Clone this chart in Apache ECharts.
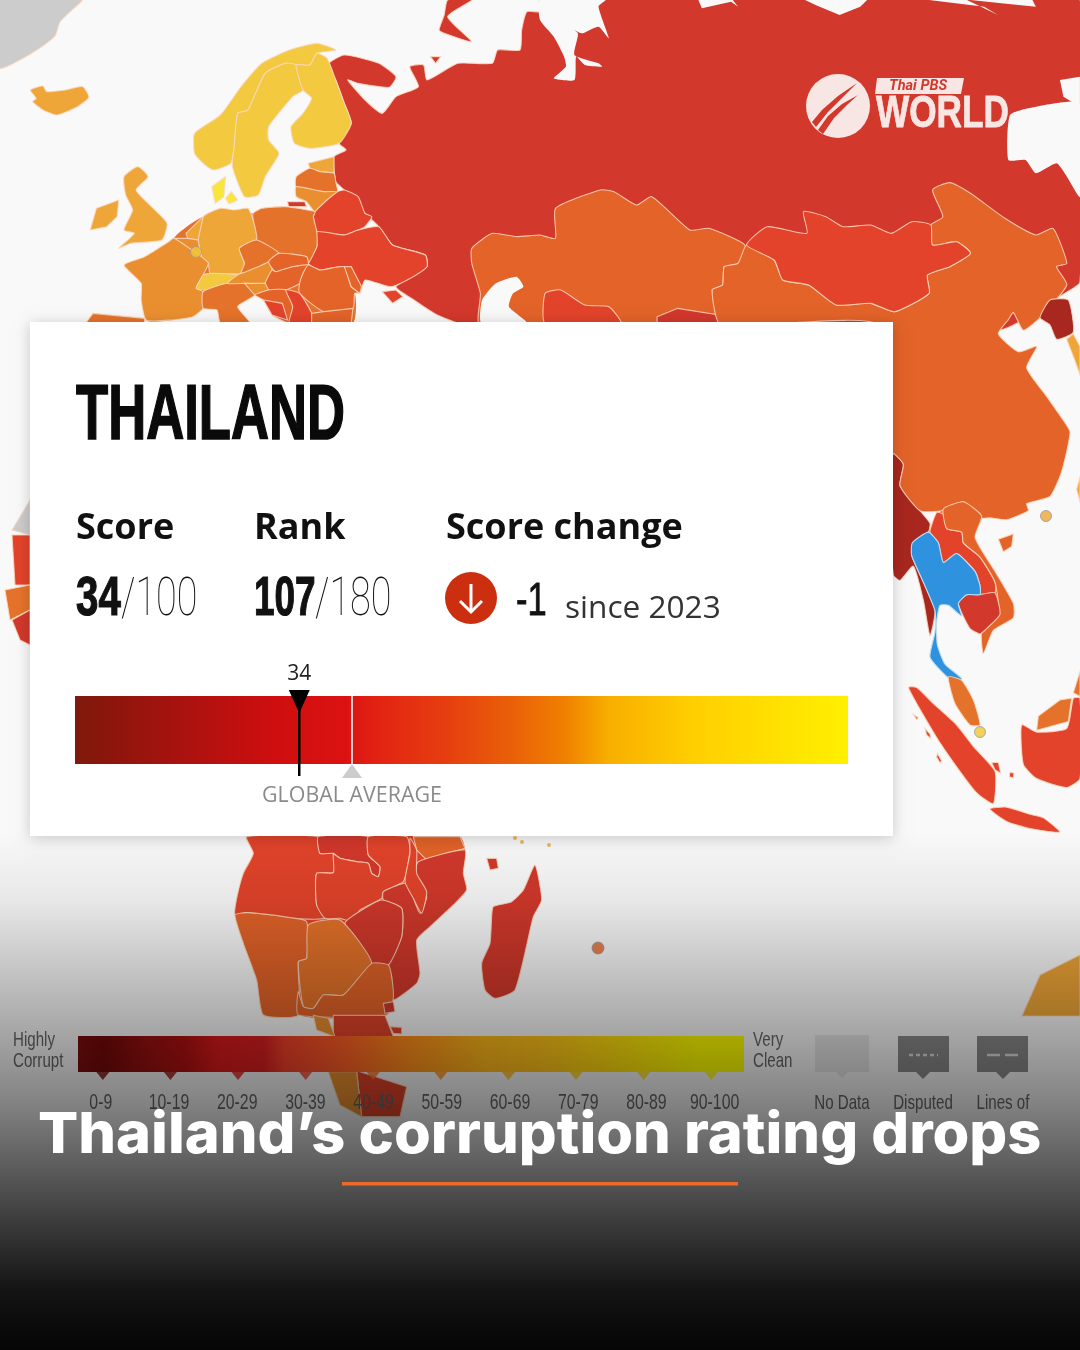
<!DOCTYPE html>
<html><head><meta charset="utf-8">
<style>html,body{margin:0;padding:0;background:#F9F9FA}#c{width:1080px;height:1350px}</style>
<script src="https://cdn.jsdelivr.net/npm/echarts@6/dist/echarts.min.js"></script>
</head><body><div id="c"></div>
<script>
// ---- values ----
const COUNTRY = 'THAILAND';
const SCORE = 34, SCORE_MAX = 100, RANK = 107, RANK_MAX = 180, CHANGE = -1, SINCE = 2023;
const GLOBAL_AVERAGE = 42;           // as placed on the reference bar
const SCORE_AXIS_MAX = 117.2;        // reference bar's extent on the same scale
const LEGEND_CATEGORIES = ['0-9','10-19','20-29','30-39','40-49','50-59','60-69','70-79','80-89','90-100'];
const LEGEND_POINTER_COLORS = ['#760808','#991010','#DB1A1A','#F24029','#FF7020','#FF8F1A','#FFB81A','#FFD010','#FFDC0D','#FFF800'];
const MAP_BANDS = [[20,'#A8271F'],[30,'#D2382B'],[40,'#E2432A'],[50,'#E36328'],[60,'#E5722A'],[70,'#EA8F2F'],[80,'#EFA638'],[90,'#F3C940'],[101,'#F8E63C']];
const BG = '#F9F9FA';
const SHEETS = {E:[0,0,2.904,3],A:[540,0,2.904,3],S:[880,300,3,2.8],F:[200,830,3,3],P:[0,0,1,1]};
function pts(s,...n){const t=SHEETS[s],o=[];for(let i=0;i<n.length;i+=2)o.push([t[0]+n[i]/t[2],t[1]+n[i+1]/t[3]]);return o;}
const E=(...n)=>pts('E',...n),A=(...n)=>pts('A',...n),S=(...n)=>pts('S',...n),F=(...n)=>pts('F',...n),X=(...n)=>pts('P',...n);

// name, score (or fixed fill), outline
const LAND = [
['Greenland','#CCCCCC',X(0,0,82,0,72,10,60,22,55,36,40,48,20,60,0,68)],
['Russia',22,[...E(950,195,1000,165,1100,190,1150,230,1130,262,1040,250,1010,240,1060,300,1110,340,1150,290,1215,260,1190,200,1230,195,1240,240,1330,190,1430,190,1445,150,1510,150,1515,90,1530,35,1568,35,1568,0),...X(1080,0,1080,282,1067,292,1000,330,482,330),...E(1270,945,1195,895,1150,860,1240,800,1235,765,1140,735,1100,680,1060,640,1000,570,975,545,970,470,1005,450,985,430,1020,370,1000,310,975,240)]],
['Novaya Zemlya',22,E(1300,0,1370,0,1300,50,1370,125,1290,100,1275,90,1290,45)],
['Kolguev',22,E(1250,170,1280,170,1265,190)],
['Kara Sea',BG,A(0,0,190,0,170,20,200,115,170,80,120,100,70,70,110,100,100,165,170,190,180,200,130,195,105,170,100,240,40,235,75,200,70,170,40,110,0,60)],
['Laptev Sea',BG,A(460,0,560,0,575,20,555,5,470,25)],
['East Siberian Sea',BG,A(770,0,950,0,930,20,870,45,800,15)],
['Chukchi Sea',BG,A(1130,0,1240,0,1330,45,1290,20)],
['Bering Sea',BG,A(1250,0,1430,0,1440,20,1340,10)],
['Kamchatka Sea',BG,A(1510,240,1568,230,1568,320,1520,290)],
['Okhotsk Sea',BG,[...A(1365,345,1440,320,1568,310,1568,590,1530,530,1500,490,1440,520,1410,480,1360,480)]],
['Iceland',77,E(88,270,125,258,135,275,190,270,240,260,258,292,225,320,165,345,125,330,95,305,105,295)],
['Norway',81,E(565,400,640,345,700,260,760,190,840,150,920,130,975,150,920,160,900,195,860,195,830,190,770,220,720,330,690,340,680,440,670,490,620,510,590,490,565,460)],
['Sweden',80,E(830,190,860,195,880,270,850,290,780,380,780,420,810,460,770,530,750,585,710,590,675,500,680,440,690,340,720,330,770,220)],
['Finland',88,E(860,195,900,195,920,160,950,175,975,240,1000,310,1020,370,985,430,900,445,855,430,845,380,880,340,905,295,880,270)],
['Denmark',90,E(615,560,655,530,650,590,625,610)],
['Denmark isles',90,E(655,595,672,575,690,600,665,612)],
['Central Europe base',53,E(505,715,590,650,735,640,915,635,920,740,1030,880,1025,968,840,968,765,900,740,885,590,875,590,925,500,960,425,960)],
['Estonia',76,E(895,490,970,470,970,520,930,515,900,505)],
['Latvia',59,E(860,530,900,505,930,515,970,520,975,545,980,575,940,575,860,560)],
['Lithuania',63,E(860,560,940,575,980,575,950,600,915,635,890,605,860,590)],
['Kaliningrad',22,E(835,605,885,605,890,620,838,620)],
['Belarus',33,E(915,635,950,600,980,575,1000,570,1040,590,1060,640,1080,650,1060,680,1040,690,1000,705,920,695,910,650)],
['Ukraine',35,E(920,695,1000,705,1040,690,1100,680,1140,735,1235,765,1240,800,1200,830,1135,860,1060,840,1045,880,1020,860,1000,800,930,810,895,790,920,740)],
['Crimea',35,E(1110,875,1150,870,1170,890,1140,910)],
['Poland',53,E(735,640,760,625,830,620,915,635,910,650,920,695,920,740,895,790,890,770,810,760,745,720,735,660)],
['Germany',75,E(590,650,640,625,680,630,720,625,735,660,745,720,695,745,710,790,700,820,610,820,605,790,585,770,575,720)],
['Netherlands',78,E(540,700,590,650,575,720,545,715)],
['Belgium',69,E(505,715,545,715,575,720,585,770,550,745)],
['France',67,E(505,715,550,745,585,770,605,790,590,825,570,865,590,875,590,925,560,950,500,960,425,960,410,900,410,850,360,795,420,770,490,725)],
['Switzerland',81,E(590,825,610,820,690,825,660,850,600,870,570,865)],
['Italy',54,E(590,875,660,850,710,850,740,885,690,920,725,968,640,968,630,930,590,925)],
['Austria',67,E(690,825,700,820,780,785,790,810,770,850,710,850,660,850)],
['Czechia',56,E(695,745,745,720,810,760,780,785,700,820,710,790)],
['Slovakia',49,E(810,760,890,770,895,795,850,800,800,815,780,785)],
['Hungary',41,E(770,850,790,810,800,815,850,800,895,795,880,820,870,850,830,870,780,870)],
['Romania',46,E(880,820,895,795,930,810,1000,800,1020,860,1045,880,1030,880,1025,925,940,935,870,880,870,850)],
['Moldova',43,E(1000,800,1020,800,1050,860,1045,880,1020,860)],
['Slovenia',60,E(710,850,770,850,780,870,740,885)],
['Croatia',47,E(740,885,780,870,830,870,850,920,840,968,790,945,765,900)],
['Serbia',35,E(830,870,870,880,905,940,905,968,840,968,850,920)],
['Bosnia',33,E(765,900,820,910,835,960,790,945)],
['Bulgaria',43,E(905,940,940,935,1025,925,1020,968,905,968)],
['Spain',56,E(250,968,270,940,420,955,420,968)],
['Ireland',77,E(262,690,280,625,345,600,340,650,310,680)],
['Great Britain',71,E(360,530,400,500,430,530,395,570,440,620,485,670,470,720,380,730,345,745,390,700,360,690,385,630,365,585)],
['Kazakhstan',40,[...E(1370,745,1430,700,1500,710),...A(0,705,45,715,45,625,175,570,215,575,280,615,325,590,435,690,490,685,595,735,575,790,535,800,530,855,500,870,525,940,525,975),...X(480,325),...E(1395,880,1370,790)]],
['Caspian Sea',BG,E(1398,968,1400,900,1440,850,1500,830,1520,860,1490,880,1478,920,1530,968)],
['Uzbekistan',31,A(15,880,60,870,130,915,200,920,235,970,15,970)],
['Kyrgyzstan',25,A(340,950,400,925,520,945,525,970,340,970)],
['Indochina base',43,S(145,650,185,590,305,605,285,665,345,760,400,850,400,890,320,920,235,850,130,790,95,715)],
['Myanmar',16,S(40,430,70,460,60,520,120,590,150,625,145,650,100,680,95,715,130,790,165,870,150,940,130,840,100,745,60,785,40,770,20,500)],
['China',43,[...A(525,975,500,870,530,855,535,800,575,790,600,735,680,780,705,840,780,855,860,915,960,910,1030,935,1130,880,1125,825,1190,800,1250,760,1210,725,1140,735,1135,675,1170,650,1140,570,1190,548,1250,580,1350,655,1440,705,1490,685,1530,790,1500,800,1530,855),...S(480,50,430,85,400,35,385,55,355,95,415,145,470,130,440,190,500,270,545,330,570,370,545,480,510,550,440,570,445,590,380,615,330,610,300,610,250,565,185,590,120,590,60,520,70,460,40,430),...X(880,453,880,325)]],
['Mongolia',33,A(600,735,660,680,775,700,765,635,830,650,880,680,960,675,1020,700,1080,665,1135,675,1140,735,1210,725,1250,760,1190,800,1125,825,1130,880,1030,935,960,910,860,915,780,855,705,840,680,780)],
['North Korea',8,S(480,50,510,0,565,0,580,90,530,110,510,70)],
['South Korea',72,S(560,110,580,95,600,130,600,210,585,170)],
['Taiwan',72,S(600,495,590,530,600,565)],
['Laos',33,S(170,595,190,600,200,640,245,650,250,680,300,720,345,790,345,820,300,825,300,800,285,760,230,710,190,735,175,680,150,650)],
['Vietnam',40,S(190,585,250,565,305,605,285,665,345,760,400,850,400,890,340,925,310,990,305,930,355,880,345,790,300,720,250,680,245,650,200,640)],
['Cambodia',21,S(235,850,260,825,300,825,345,820,360,880,320,920,300,935,270,920)],
['Thailand','#2E92DF',S(97,680,145,650,175,680,190,735,230,710,285,760,300,800,300,825,260,825,235,850,245,885,205,855,180,855,170,900,172,965,195,1020,245,1060,230,1075,195,1050,150,1000,165,930,165,870,130,790,95,715)],
['Malaysia',50,S(205,1055,245,1065,280,1120,300,1190,270,1190,225,1130)],
['Hainan',43,S(355,670,400,655,395,690,370,705)],
['Sumatra',37,S(85,1085,110,1085,160,1130,230,1190,280,1250,345,1320,340,1410,290,1380,240,1320,170,1225)],
['Java',37,S(330,1425,380,1420,450,1440,490,1450,540,1490,450,1480,380,1460)],
['Borneo',37,S(425,1190,470,1210,560,1200,580,1115,600,1115,600,1340,560,1365,470,1340,430,1300)],
['Sabah',50,S(475,1165,540,1120,575,1115,565,1180,470,1205)],
['Sarawak',50,S(580,1100,600,1040,600,1110)],
['Belitung',37,S(335,1295,355,1295,362,1325,345,1315)],
['Bangka',37,S(390,1322,402,1325,400,1338,388,1335)],
['Mentawai 1',37,S(100,1160,115,1170,110,1175)],
['Mentawai 2',37,S(135,1200,150,1215,152,1228,140,1218)],
['Mentawai 3',37,S(172,1270,185,1290,180,1296,170,1280)],
['Western Sahara','#CCCCCC',X(12,530,30,500,30,535)],
['Mauritania',30,X(12,535,30,535,30,585,15,585)],
['Senegal',50,X(5,590,30,585,30,610,10,620)],
['Guinea',28,X(12,620,30,610,30,645,20,640)],
['Southern Africa base',33,F(140,20,780,20,795,55,790,130,800,180,760,225,690,290,650,330,660,430,650,460,580,510,560,555,300,555,300,400,300,280,110,255,130,130,160,70)],
['Angola',32,F(140,20,355,20,360,70,400,70,400,128,350,130,350,225,375,265,270,265,140,248,105,255,110,205,130,130,160,70)],
['DR Congo',20,F(355,20,505,20,505,75,540,110,535,140,515,130,505,100,470,95,420,85,400,70,360,70)],
['Zambia',39,F(350,130,400,128,400,72,420,85,470,95,505,100,515,130,535,140,540,110,505,75,505,20,620,20,630,60,610,155,550,185,545,205,480,240,460,275,420,265,375,265,350,225)],
['Tanzania',41,F(640,20,780,20,795,55,680,90,650,60)],
['Mozambique',25,F(655,95,795,60,790,130,800,180,760,225,690,290,650,330,660,430,650,460,580,510,575,440,565,405,605,320,605,235,550,210,550,185,610,160,650,170,680,200,660,250,640,200,645,130)],
['Malawi',34,F(630,25,650,60,650,130,680,185,665,250,640,205,615,155,630,70)],
['Zimbabwe',21,F(545,210,605,235,605,320,565,405,515,400,480,370,435,280,470,250)],
['Namibia',49,F(105,255,140,248,265,262,320,275,320,385,295,395,295,555,190,555,170,450,130,340)],
['Botswana',57,F(325,285,420,270,515,400,430,495,370,495,340,535,310,530,295,395,320,385)],
['South Africa',41,F(515,400,565,405,575,440,580,505,560,555,295,555,295,485,310,530,340,535,370,495,430,495)],
['Eswatini',27,F(550,520,580,515,585,545,555,550)],
['Madagascar',26,F(880,230,935,215,970,180,1005,105,1025,210,1000,260,945,480,885,505,855,480,845,400,870,340,875,260)],
['Comoros',26,F(860,85,890,85,895,115,870,120)],
['Australia',77,X(1022,1016,1040,975,1080,955,1080,1016)],
['South America lower',30,F(400,556,555,556,580,620,400,620)],
['Chile upper',63,F(340,556,385,565,405,620,350,600)],
['Falkland',30,F(570,590,605,592,605,612,580,610)],
['Patagonia',30,F(470,722,620,770,600,860,485,860)],
['Chile lower',63,F(385,725,470,725,485,860,420,825)],
];
const MICROSTATES = [[196,252,'#F0C838',11],[980,732,'#F0C838',11],[1046,516,'#EFA638',11],[598,948,'#E36328',12],[515,838,'#EFA638',4],[522,842,'#EFA638',4],[549,845,'#EFA638',4]];

function fillOf(v){ if(typeof v==='string')return v; for(const b of MAP_BANDS) if(v<b[0]) return b[1]; return MAP_BANDS[MAP_BANDS.length-1][1]; }
const CARD_STOPS=[[0,'#7E1A0C'],[.05,'#8E150B'],[.15,'#AD1210'],[.25,'#CC0E0E'],[.35,'#DC1212'],[.4,'#E32612'],[.48,'#E63E10'],[.57,'#EA6208'],[.634,'#F08000'],[.69,'#F8AE00'],[.8,'#FFCF00'],[.9,'#FFDF00'],[1,'#FFF000']];
const LEGEND_STOPS=[[0,'#7F0D0D'],[.04,'#760808'],[.10,'#991010'],[.16,'#B21010'],[.21,'#DB1A1A'],[.28,'#DB2020'],[.31,'#F24029'],[.40,'#FE5F26'],[.50,'#FF8F1A'],[.61,'#FFB81A'],[.69,'#FFC21A'],[.80,'#FFDC0D'],[.93,'#FFFF00'],[1,'#FFFF00']];
const grad=s=>({type:'linear',x:0,y:0,x2:1,y2:0,colorStops:s.map(a=>({offset:a[0],color:a[1]}))});

function T(text,x,y,size,o={}){return {type:'text',x,y,scaleX:o.sx||1,z:o.z==null?40:o.z,style:{text,fontFamily:o.font||'Open Sans',fontSize:size,fontWeight:o.w||400,fontStyle:o.it||'normal',fill:o.c||'#111',textAlign:o.a||'left',textVerticalAlign:'middle',stroke:o.sw?(o.c||'#111'):null,lineWidth:o.sw||0}};}
const SANS='Liberation Sans', NS=.72;
const graphicEls=[
 {type:'rect',z:10,shape:{x:0,y:830,width:1080,height:520},style:{fill:{type:'linear',x:0,y:0,x2:0,y2:1,colorStops:[{offset:0,color:'rgba(0,0,0,0)'},{offset:.135,color:'rgba(0,0,0,.07)'},{offset:.346,color:'rgba(0,0,0,.29)'},{offset:.52,color:'rgba(0,0,0,.47)'},{offset:.712,color:'rgba(0,0,0,.71)'},{offset:.885,color:'rgba(0,0,0,.92)'},{offset:1,color:'rgba(0,0,0,.98)'}]}}},
 {type:'rect',z:30,shape:{x:30,y:322,width:863,height:514},style:{fill:'#fff',shadowBlur:14,shadowColor:'rgba(0,0,0,.2)',shadowOffsetY:2}},
 T(COUNTRY,76,417,78,{font:SANS,w:700,sx:.675,c:'#0a0a0a',sw:1.6}),
 T('Score',76,529,36,{w:700}),T('Rank',254,529,36,{w:700}),T('Score change',446,529,36,{w:700}),
 T(String(SCORE),76,600,56,{font:SANS,w:700,sx:.72,sw:1.2}),
 T('/'+SCORE_MAX,121,601,54,{font:'Roboto',w:100,sx:.7,c:'#111'}),
 T(String(RANK),254,600,56,{font:SANS,w:700,sx:.66,sw:1.2}),
 T('/'+RANK_MAX,315,601,54,{font:'Roboto',w:100,sx:.7,c:'#111'}),
 {type:'circle',z:40,shape:{cx:471,cy:598,r:26},style:{fill:'#CC2E10'}},
 {type:'polyline',z:41,shape:{points:[[471,584],[471,612]]},style:{stroke:'#fff',lineWidth:3,fill:null}},
 {type:'polyline',z:41,shape:{points:[[460,601],[471,612],[482,601]]},style:{stroke:'#fff',lineWidth:3,fill:null}},
 T(String(CHANGE),516,602,46,{font:SANS,w:400,sx:.75,c:'#111',sw:.8}),
 T('since '+SINCE,565,609,31.6,{w:400,c:'#333'}),
 {type:'circle',z:20,shape:{cx:838,cy:106,r:32},style:{fill:'#F7E6E3'}},
 {type:'polygon',z:21,shape:{points:[[812,122],[822,110],[838,96],[857,83],[842,98],[828,112],[816,127]]},style:{fill:'#D2382B'}},
 {type:'polygon',z:21,shape:{points:[[818,130],[828,116],[842,104],[858,95],[848,104],[834,118],[823,134]]},style:{fill:'#D2382B'}},
 {type:'polygon',z:20,shape:{points:[[877,78],[964,78],[961,94],[875,94]]},style:{fill:'#F7E6E3'}},
 T('Thai PBS',889,86,14.5,{font:'Roboto',w:700,it:'italic',c:'#D2382B',z:21}),
 T('WORLD',876,115,44,{font:SANS,w:700,sx:.8,c:'#F7E6E3',z:21,sw:.8}),
 T('Highly',13,1040,21,{font:SANS,c:'#666',z:5,sx:NS}),T('Corrupt',13,1061,21,{font:SANS,c:'#666',z:5,sx:NS}),
 T('Very',753,1040,21,{font:SANS,c:'#666',z:5,sx:NS}),T('Clean',753,1061,21,{font:SANS,c:'#666',z:5,sx:NS}),
 {type:'rect',z:5,shape:{x:815,y:1035,width:54,height:37},style:{fill:'#E6E6E6'}},
 {type:'rect',z:5,shape:{x:898,y:1036,width:51,height:36},style:{fill:'#8A8A8A'}},
 {type:'rect',z:5,shape:{x:977,y:1036,width:51,height:36},style:{fill:'#8A8A8A'}},
 {type:'polygon',z:5,shape:{points:[[916,1072],[930,1072],[923,1079]]},style:{fill:'#8A8A8A'}},
 {type:'polygon',z:5,shape:{points:[[996,1072],[1010,1072],[1003,1079]]},style:{fill:'#8A8A8A'}},
 {type:'polygon',z:5,shape:{points:[[836,1072],[848,1072],[842,1078]]},style:{fill:'#E6E6E6'}},
 {type:'line',z:6,shape:{x1:909,y1:1055,x2:938,y2:1055},style:{stroke:'#DDD',lineWidth:2.5,lineDash:[4,3]}},
 {type:'line',z:6,shape:{x1:987,y1:1055,x2:1019,y2:1055},style:{stroke:'#DDD',lineWidth:2.5,lineDash:[13,5]}},
 T('No Data',842,1103,21,{font:SANS,c:'#666',z:5,a:'center',sx:NS}),
 T('Disputed',923,1103,21,{font:SANS,c:'#666',z:5,a:'center',sx:NS}),
 T('Lines of',1003,1103,21,{font:SANS,c:'#666',z:5,a:'center',sx:NS}),
 T('Thailand\u2019s corruption rating drops',38,1136,57,{font:'Inter',w:800,sx:1.044,c:'#fff',z:50}),
 {type:'rect',z:50,shape:{x:342,y:1182,width:396,height:3.5},style:{fill:'#EE6A2B'}},
];

const chart=echarts.init(document.getElementById('c'),null,{renderer:'canvas',width:1080,height:1350});
const hidden=(g,type,o={})=>Object.assign({type,gridIndex:g,show:false},o);
chart.setOption({
 animation:false,backgroundColor:BG,
 grid:[
  {left:0,top:0,width:1080,height:1350},
  {left:75,top:696,width:773,height:68},
  {left:78,top:1036,width:666,height:36},
  {left:69,top:1072,width:676,height:8},
 ],
 xAxis:[
  hidden(0,'value',{min:0,max:1080}),
  hidden(1,'value',{min:0,max:SCORE_AXIS_MAX}),
  hidden(2,'value',{min:0,max:100}),
  hidden(3,'category',{data:LEGEND_CATEGORIES}),
 ],
 yAxis:[
  hidden(0,'value',{min:0,max:1350,inverse:true}),
  hidden(1,'category',{data:['score']}),
  hidden(2,'category',{data:['legend']}),
  hidden(3,'value',{min:0,max:1}),
 ],
 series:[
  {type:'custom',name:'map',xAxisIndex:0,yAxisIndex:0,z:1,silent:true,clip:false,data:LAND.map((r,i)=>[i]),encode:{x:0,y:0},
   renderItem(p,api){const r=LAND[api.value(0)],sea=r[1]===BG,base=/base$/.test(r[0]),thai=r[0]==='Thailand';
    return {type:'polygon',shape:{points:r[2].map(q=>api.coord(q)),smooth:r[2].length>5?.18:0},style:{fill:fillOf(r[1]),stroke:(sea||base)?null:(thai?'#BFDDF2':'rgba(252,215,190,.85)'),lineWidth:(sea||base)?0:1.1}};}},
  {type:'scatter',name:'small states',xAxisIndex:0,yAxisIndex:0,z:2,data:MICROSTATES.map(m=>({value:[m[0],m[1]],symbolSize:m[3],itemStyle:{color:m[2],borderColor:'#999',borderWidth:m[3]>5?1:0}}))},
  {type:'bar',name:'score scale',xAxisIndex:1,yAxisIndex:1,z:41,barWidth:'100%',silent:true,data:[SCORE_AXIS_MAX],itemStyle:{color:grad(CARD_STOPS)}},
  {type:'custom',name:'global average',xAxisIndex:1,yAxisIndex:1,z:42,clip:false,data:[[GLOBAL_AVERAGE]],encode:{x:0},
   renderItem(p,api){const x=api.coord([api.value(0),0])[0],c=p.coordSys,b=c.y+c.height;
    return {type:'group',children:[
     {type:'line',shape:{x1:x,y1:c.y,x2:x,y2:b},style:{stroke:'#D8D0D0',lineWidth:2}},
     {type:'polygon',shape:{points:[[x-10,b+14],[x+10,b+14],[x,b]]},style:{fill:'#CCCCCC'}},
     {type:'text',x:x,y:b+32,scaleX:1.02,style:{text:'GLOBAL AVERAGE',fontFamily:'Open Sans',fontSize:21,fill:'#8A8A8A',textAlign:'center',textVerticalAlign:'middle'}}]};}},
  {type:'custom',name:'score',xAxisIndex:1,yAxisIndex:1,z:43,clip:false,data:[[SCORE]],encode:{x:0},
   renderItem(p,api){const x=api.coord([api.value(0),0])[0],c=p.coordSys,b=c.y+c.height;
    return {type:'group',children:[
     {type:'line',shape:{x1:x,y1:c.y,x2:x,y2:b+12},style:{stroke:'#000',lineWidth:2.5}},
     {type:'polygon',shape:{points:[[x-10.5,c.y-6],[x+10.5,c.y-6],[x,c.y+17]]},style:{fill:'#000'}},
     {type:'text',x:x,y:c.y-22,style:{text:String(api.value(0)),fontFamily:'Open Sans',fontSize:21,fill:'#222',textAlign:'center',textVerticalAlign:'middle'}}]};}},
  {type:'bar',name:'legend scale',xAxisIndex:2,yAxisIndex:2,z:5,barWidth:'100%',silent:true,data:[100],itemStyle:{color:grad(LEGEND_STOPS)}},
  {type:'scatter',name:'legend pointers',xAxisIndex:3,yAxisIndex:3,z:5,symbol:'triangle',symbolRotate:180,symbolSize:[13,8],silent:true,
   data:LEGEND_CATEGORIES.map((c,i)=>({value:[i,.5],itemStyle:{color:LEGEND_POINTER_COLORS[i]}}))},
  {type:'custom',name:'legend labels',xAxisIndex:3,yAxisIndex:3,z:5,clip:false,silent:true,data:LEGEND_CATEGORIES.map((c,i)=>[i]),encode:{x:0},
   renderItem(p,api){const i=api.value(0),x=api.coord([i,0])[0];
    return {type:'text',x:x-2+i*.6,y:1103,scaleX:NS,style:{text:LEGEND_CATEGORIES[i],fontFamily:SANS,fontSize:22,fill:'#666',textAlign:'center',textVerticalAlign:'middle'}};}},
 ],
 graphic:{elements:graphicEls}
});
</script></body></html>
